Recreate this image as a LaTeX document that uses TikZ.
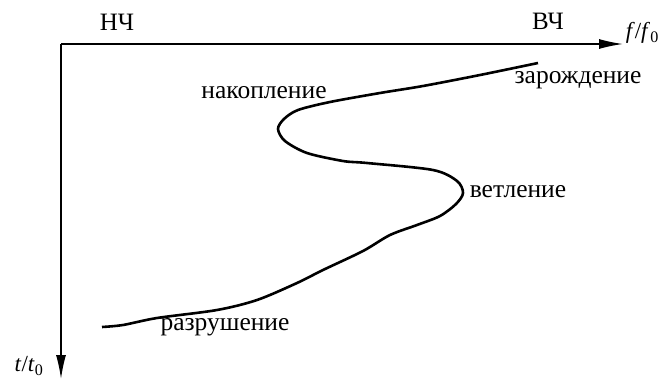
\documentclass[tikz,border=0pt]{standalone}
\usepackage{fontspec}
\setmainfont{Liberation Serif}
\usetikzlibrary{arrows.meta}

\begin{document}
\begin{tikzpicture}[
  x=1pt, y=-1pt,
  axis/.style={-{Latex[length=24pt, width=10pt]}, line width=1.4pt, black},
  curve/.style={line width=2.6pt, black, smooth, tension=0.5},
  stage/.style={font=\fontsize{25.5}{30}\selectfont, inner sep=0pt},
  band/.style={font=\fontsize{25}{30}\selectfont, inner sep=0pt},
  ratio/.style={font=\fontsize{23}{27}\selectfont, inner sep=0pt}
]
\useasboundingbox (0,0) rectangle (660,380);

% axes
\coordinate (origin) at (61,44);
\coordinate (fend)   at (623,44);
\coordinate (tend)   at (61,379);
\draw[axis] (origin) -- (fend);
\draw[axis] (origin) -- (tend);

\node[band] (lf) at (117,22) {НЧ};
\node[band] (hf) at (548,21) {ВЧ};
\node[ratio, anchor=east] (flab) at (659,33) {\textit{f}/\textit{f}\textsubscript{0}};
\node[ratio] (tlab) at (29,366) {\textit{t}/\textit{t}\textsubscript{0}};

% crack path
\draw[curve] plot coordinates {
  (102,327) (123,325) (157,318) (217,310) (257,300) (297,283)
  (323,270) (363,251) (390,235) (417,225) (440,216) (456,204)
  (463,193) (457,181) (433,170) (367,163) (343,161) (307,153)
  (285,141) (278,129) (284,119) (298,110) (330,102) (380,93)
  (423,86) (480,75) (538,63)};

\node[stage] (nucl)   at (578,80)  {зарождение};
\node[stage] (accum)  at (264,93)  {накопление};
\node[stage] (branch) at (518,192) {ветление};
\node[stage] (fract)  at (225,327) {разрушение};

\end{tikzpicture}
\end{document}
